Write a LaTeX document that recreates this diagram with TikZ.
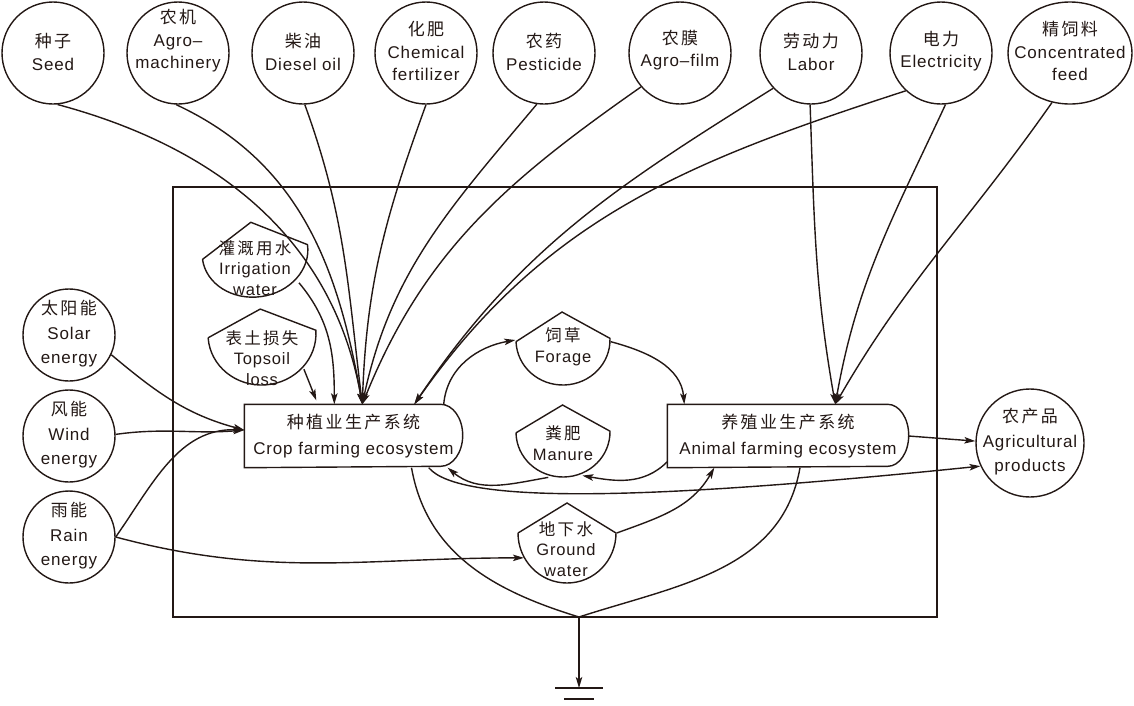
\documentclass[tikz,border=0pt]{standalone}
\usepackage{fontspec}
\setmainfont[LetterSpace=5]{Liberation Sans}
\newfontfamily\cjkfont[LetterSpace=14]{Noto Sans CJK SC}
\newcommand\zh[1]{{\cjkfont #1}}
\usetikzlibrary{arrows.meta,calc,shapes.geometric}
\definecolor{ink}{RGB}{35,24,21}
\newcommand\tankoutline[5]{%
  \draw[shift={(#1.center)},rotate=#5] (-#2,0) -- (0,#4) -- (#2,0)
    arc[start angle=0,end angle=-180,x radius=#2,y radius=#3];}
\newcommand\sysoutline[2]{%
  \draw (#1.north west) -- ([xshift=-#2]#1.north east)
    arc[start angle=90,end angle=-90,x radius=#2,y radius=31] -- (#1.south west) -- cycle;}
\begin{document}
\begin{tikzpicture}[x=1pt,y=1pt,line width=1.4pt,color=ink,
  conn/.style={-{Stealth[length=11pt,width=6.5pt,inset=2.5pt]}},
  circ/.style={circle,draw,inner sep=0pt,minimum size=102pt},
  scirc/.style={circle,draw,inner sep=0pt,minimum size=92pt},
  lbl/.style={align=center,inner sep=0pt,font=\fontsize{17}{22.5}\selectfont},
  llbl/.style={align=center,inner sep=0pt,font=\fontsize{17}{24.5}\selectfont},
  tlbl/.style={align=center,inner sep=0pt,font=\fontsize{16.5}{20.5}\selectfont},
  ghost/.style={circle,inner sep=0pt,minimum size=#1},
  sys/.style={inner sep=0pt,minimum height=62pt,align=center,font=\fontsize{17}{26}\selectfont}]
\useasboundingbox (0,0) rectangle (1134,-705);

% frame
\node[draw,minimum width=764pt,minimum height=430pt,inner sep=0pt] (frame) at (555,-402) {};

% top inputs
\node[circ] (seed) at (53,-53) {};
\node[lbl] (seedt) at (53,-52) {\zh{种子}\\Seed};
\node[circ] (mach) at (178,-53) {};
\node[lbl] (macht) at (178,-41) {\zh{农机}\\Agro–\\machinery};
\node[circ] (diesel) at (303,-53) {};
\node[lbl] (dieselt) at (303,-52) {\zh{柴油}\\Diesel oil};
\node[circ] (fert) at (426,-53) {};
\node[lbl] (fertt) at (426,-51) {\zh{化肥}\\Chemical\\fertilizer};
\node[circ] (pest) at (544,-53) {};
\node[lbl] (pestt) at (544,-52) {\zh{农药}\\Pesticide};
\node[circ] (film) at (680,-53) {};
\node[lbl] (filmt) at (680,-50) {\zh{农膜}\\Agro–film};
\node[circ] (labor) at (811,-53) {};
\node[lbl] (labort) at (811,-52) {\zh{劳动力}\\Labor};
\node[circ] (elec) at (941,-53) {};
\node[lbl] (elect) at (941,-51) {\zh{电力}\\Electricity};
\node[ellipse,draw,inner sep=0pt,minimum width=124pt,minimum height=102pt] (feed) at (1070,-53) {};
\node[lbl] (feedt) at (1070,-51) {\zh{精饲料}\\Concentrated\\feed};

% left inputs
\node[scirc] (solar) at (69,-335) {};
\node[llbl] (solart) at (69,-334) {\zh{太阳能}\\Solar\\energy};
\node[scirc] (wind) at (69,-436) {};
\node[llbl] (windt) at (69,-435) {\zh{风能}\\Wind\\energy};
\node[scirc] (rain) at (69,-537) {};
\node[llbl] (raint) at (69,-536) {\zh{雨能}\\Rain\\energy};

% output
\node[circle,draw,inner sep=0pt,minimum size=108pt] (agri) at (1030,-443) {};
\node[llbl] (agrit) at (1030,-442) {\zh{农产品}\\Agricultural\\products};

% systems
\node[sys,minimum width=217pt] (crop) at (353.5,-436) {\zh{种植业生产系统}\\Crop farming ecosystem};
\sysoutline{crop}{22}
\node[sys,minimum width=240pt] (animal) at (788,-436) {\zh{养殖业生产系统}\\Animal farming ecosystem};
\sysoutline{animal}{21}

% storages
\node[ghost=106pt] (irr) at (255,-252) {};
\tankoutline{irr}{53}{45}{30}{8}
\node[tlbl] (irrt) at (255,-268) {\zh{灌溉用水}\\Irrigation\\water};
\node[ghost=108pt] (soil) at (262,-334) {};
\tankoutline{soil}{54}{51}{25}{4}
\node[tlbl] (soilt) at (262,-358) {\zh{表土损失}\\Topsoil\\loss};
\node[ghost=94pt] (forage) at (563,-340) {};
\tankoutline{forage}{47}{45}{28}{2}
\node[tlbl] (foraget) at (563,-347) {\zh{饲草}\\Forage};
\node[ghost=94pt] (manure) at (563,-432) {};
\tankoutline{manure}{47}{45}{27}{1}
\node[tlbl] (manuret) at (563,-443) {\zh{粪肥}\\Manure};
\node[ghost=98pt] (gw) at (567,-533) {};
\tankoutline{gw}{49}{50}{30}{0}
\node[tlbl] (gwt) at (566,-549) {\zh{地下水}\\Ground\\water};

% inputs to crop system
\draw[conn] (seed.-85) to[out=-15,in=100] ([xshift=118]crop.north west);
\draw[conn] (mach.-92) to[out=-25,in=100] ([xshift=118]crop.north west);
\draw[conn] (diesel.-88) to[out=-70,in=97] ([xshift=118]crop.north west);
\draw[conn] (fert.-90) to[out=-110,in=88] ([xshift=118]crop.north west);
\draw[conn] (pest.-98) to[out=-130,in=78] ([xshift=118]crop.north west);
\draw[conn] (film.-139) to[out=-145,in=68] ([xshift=118]crop.north west);
\draw[conn] (labor.-137) to[out=-148,in=56] ([xshift=170]crop.north west);
\draw[conn] (elec.-133) to[out=-162,in=55] ([xshift=170]crop.north west);
\draw[conn] (irr.-35) to[out=-50,in=90] ([xshift=90]crop.north west);
\draw[conn] (soil.-40) -- ([xshift=72,yshift=4]crop.north west);
\draw[conn] (solar.-25) to[out=-40,in=165] ([yshift=6]crop.west);
\draw[conn] (wind.2) to[out=8,in=185] ([yshift=6]crop.west);
\draw[conn] (rain.0) to[out=55,in=178] ([yshift=6]crop.west);

% inputs to animal system
\draw[conn] (labor.-91) to[out=-88,in=100] ([xshift=168]animal.north west);
\draw[conn] (elec.-85) to[out=-115,in=80] ([xshift=168]animal.north west);
\draw[conn] (feed.-110) to[out=-125,in=60] ([xshift=168]animal.north west);

% internal flows
\draw[conn] ([xshift=-19]crop.north east) to[out=85,in=190] (forage.180);
\draw[conn] (forage.-2) to[out=-15,in=95] ([xshift=17]animal.north west);
\draw[conn] ([yshift=6]animal.south west) to[out=225,in=-10] (manure.-66);
\draw[conn] (manure.-108) to[out=190,in=-40] ([xshift=-15]crop.south east);
\draw[conn] (rain.0) to[out=-15,in=180] (gw.-150);
\draw[conn] (gw.0) to[out=20,in=-120] ([xshift=47]animal.south west);

% outputs
\draw[conn] (animal.east) -- (agri.178);
\draw[conn] ([xshift=-34]crop.south east) .. controls (460,-505) and (650,-500) .. (agri.-155);

% losses to ground
\coordinate (gj) at (579,-617);
\coordinate (gnd) at (579,-688);
\draw ([xshift=58]crop.south) to[out=-80,in=163] (gj);
\draw ([xshift=12]animal.south) to[out=-100,in=18] (gj);
\draw[conn] (gj) -- (gnd);
\draw ([xshift=-24]gnd) -- ([xshift=24]gnd);
\draw ([xshift=-15,yshift=-11]gnd) -- ([xshift=15,yshift=-11]gnd);
\end{tikzpicture}
\end{document}
